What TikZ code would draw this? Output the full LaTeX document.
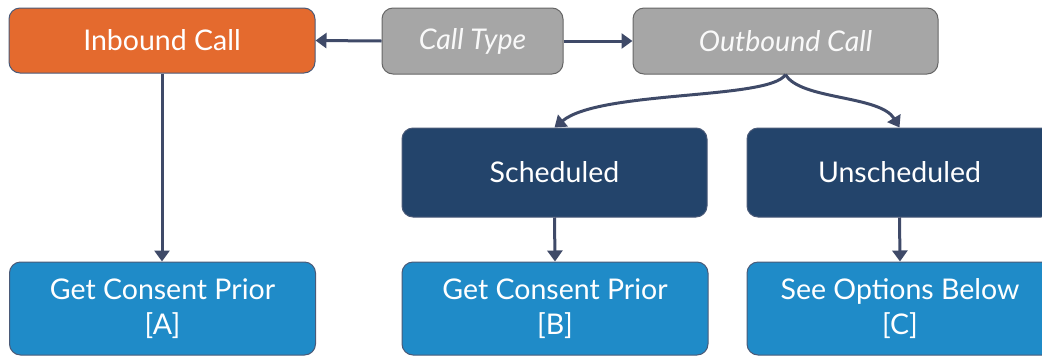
\documentclass[tikz,border=0pt]{standalone}
\usepackage{fontspec}
\setmainfont{Lato}
\usetikzlibrary{arrows.meta}
\definecolor{cOrange}{HTML}{E46A2E}
\definecolor{cGray}{HTML}{A6A6A6}
\definecolor{cNavy}{HTML}{23446B}
\definecolor{cBlue}{HTML}{1F8BC8}
\definecolor{cArrow}{HTML}{3F4A68}
\definecolor{cEdge}{HTML}{4A5A78}
\begin{document}
\begin{tikzpicture}[x=1pt,y=-1pt,
  box/.style={rounded corners=11pt, inner sep=0pt, draw=cEdge, line width=1pt,
    text=white, align=center, font=\fontsize{28.5}{35}\selectfont},
  orangebox/.style={box, fill=cOrange, minimum width=306pt, minimum height=65pt},
  graybox/.style={box, fill=cGray, draw=gray!80!black, font=\fontsize{28.5}{35}\selectfont\itshape, text=white!95!gray, minimum height=66pt},
  navybox/.style={box, fill=cNavy, minimum width=305pt, minimum height=89pt},
  bluebox/.style={box, fill=cBlue, minimum width=306pt, minimum height=93pt},
  conn/.style={draw=cArrow, line width=3pt, -{Triangle[length=11pt,width=15pt]}}
]
\useasboundingbox (0,0) rectangle (1042,357);
\clip (0,0) rectangle (1042,357);
\node[orangebox] (inb) at (162,40.5) {Inbound Call};
\node[graybox, minimum width=181pt] (ct) at (472.5,41) {Call Type};
\node[graybox, minimum width=305pt] (outb) at (785.5,41) {Outbound Call};
\node[navybox] (sch) at (554.5,172.5) {Scheduled};
\node[navybox] (uns) at (899.5,172.5) {Unscheduled};
\node[bluebox] (a) at (162.5,308.5) {Get Consent Prior\\{[A]}};
\node[bluebox] (b) at (555,308.5) {Get Consent Prior\\{[B]}};
\node[bluebox] (c) at (900,308.5) {See Options Below\\{[C]}};
\draw[conn] (ct.west) -- (inb.east);
\draw[conn] (ct.east) -- (outb.west);
\draw[conn] (outb.south) .. controls (770,100) and (600,90) .. (sch.north);
\draw[conn] (outb.south) .. controls (800,100) and (880,95) .. (uns.north);
\draw[conn] (inb.south) -- (inb.south |- a.north);
\draw[conn] (sch.south) -- (b.north);
\draw[conn] (uns.south) -- (c.north);
\end{tikzpicture}
\end{document}
